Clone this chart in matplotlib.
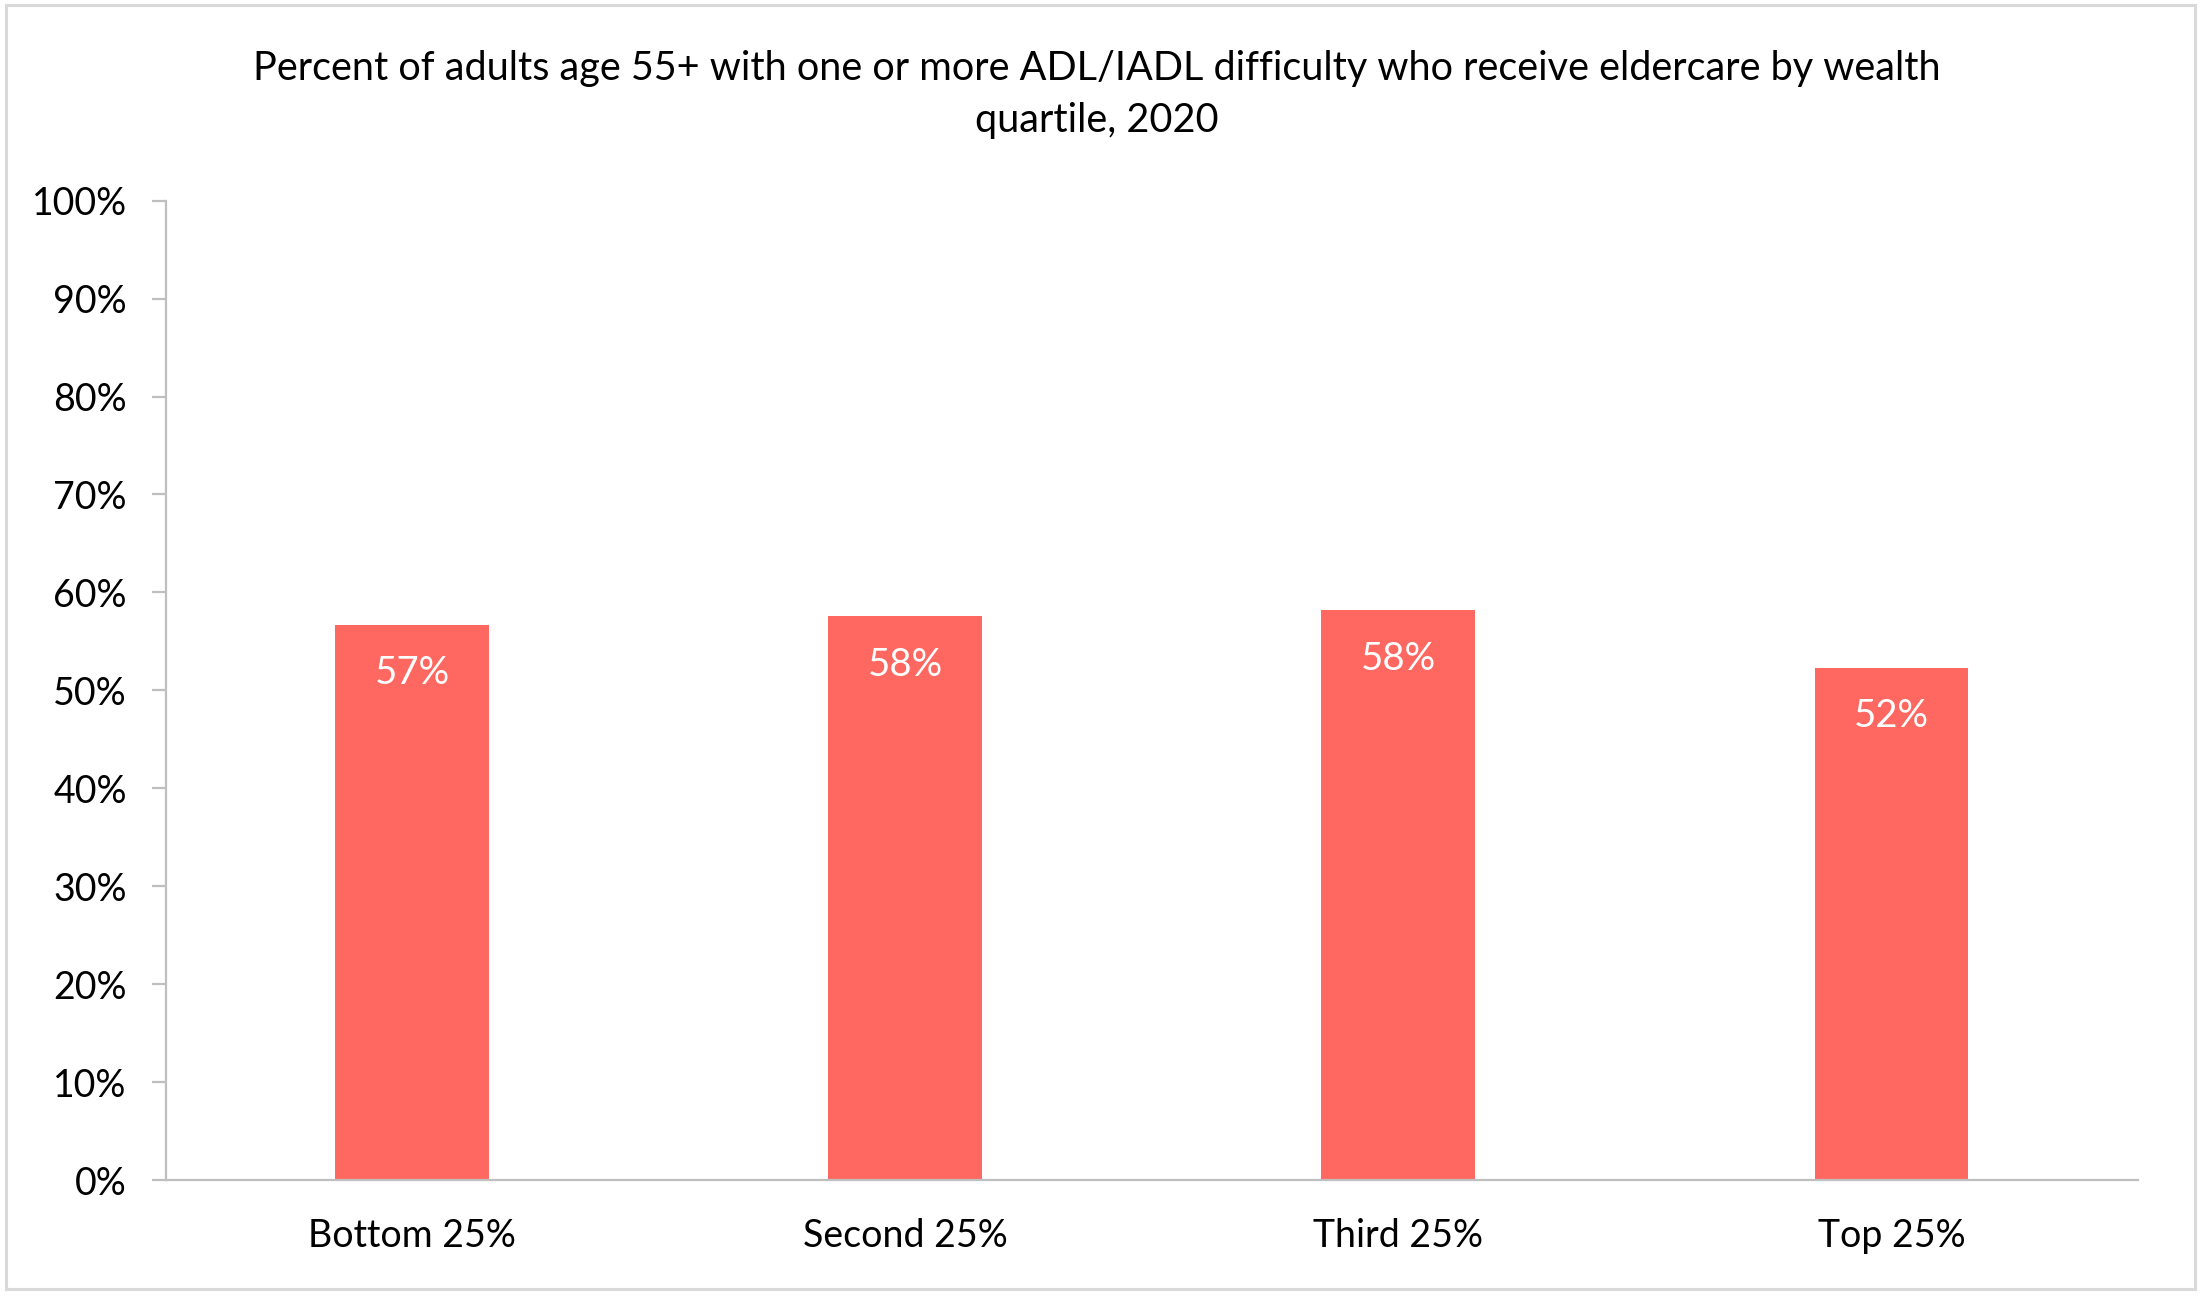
import matplotlib
matplotlib.use("Agg")
import matplotlib.pyplot as plt
from matplotlib.patches import Rectangle
from matplotlib.ticker import PercentFormatter

categories = ["Bottom 25%", "Second 25%", "Third 25%", "Top 25%"]
values = [56.7, 57.6, 58.2, 52.3]
value_labels = ["57%", "58%", "58%", "52%"]
yticks = [0, 10, 20, 30, 40, 50, 60, 70, 80, 90, 100]
title = ("Percent of adults age 55+ with one or more ADL/IADL difficulty who receive eldercare by wealth\n"
         "quartile, 2020")

plt.rcParams['font.family'] = ['Lato', 'DejaVu Sans']

fig = plt.figure(figsize=(22, 12.97), dpi=100)
ax = fig.add_axes([0.0753, 0.0902, 0.8965, 0.7551])

bar_color = "#FF6860"
x = range(len(categories))
bars = ax.bar(x, values, width=0.312, color=bar_color, zorder=2)

for xi, v, lab in zip(x, values, value_labels):
    ax.annotate(lab, (xi, v), xytext=(0, -35), textcoords="offset points",
                ha="center", va="center", color="white", fontsize=27.5)

ax.set_xlim(-0.5, 3.5)
ax.set_ylim(0, 100)
ax.set_yticks(yticks)
ax.yaxis.set_major_formatter(PercentFormatter(decimals=0))
ax.set_xticks(list(x))
ax.set_xticklabels(categories)

for s in ["top", "right"]:
    ax.spines[s].set_visible(False)
for s in ["left", "bottom"]:
    ax.spines[s].set_color("#BFBFBF")
    ax.spines[s].set_linewidth(1.6)

ax.tick_params(axis="y", length=10, width=1.6, color="#BFBFBF", pad=18, labelsize=27, labelcolor="black")
ax.tick_params(axis="x", length=0, pad=27, labelsize=27, labelcolor="black")

fig.text(0.4986, 0.9275, title, ha="center", va="center", fontsize=28.5, linespacing=1.5)

fig.patches.append(Rectangle((0.0025, 0.006), 0.995, 0.99, transform=fig.transFigure,
                             fill=False, edgecolor="#D9D9D9", linewidth=2.2))

fig.savefig("out.png", dpi=100, facecolor="white")
